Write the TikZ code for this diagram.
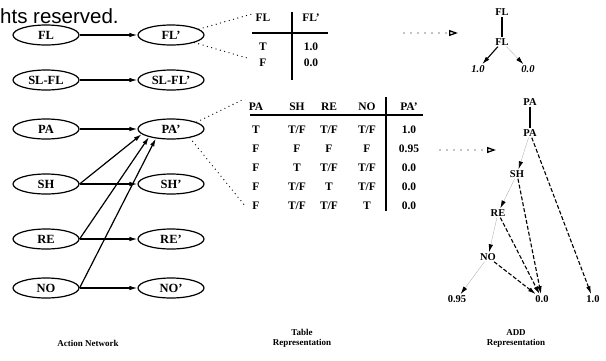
\documentclass[tikz,border=0pt]{standalone}
\usepackage{fontspec}
\setmainfont{Liberation Serif}
\newfontfamily\sansf{Liberation Sans}
\usetikzlibrary{arrows.meta,shapes.geometric}
\begin{document}
\begin{tikzpicture}[x=1pt,y=-1pt,
  st/.style={ellipse,draw,line width=1.2pt,minimum width=66pt,minimum height=20pt,inner sep=0pt,
             font=\bfseries\fontsize{12.5}{13}\selectfont},
  net/.style={-{Latex[length=8pt,width=4.5pt]},line width=1.2pt},
  tx/.style={inner sep=0pt,font=\bfseries\fontsize{11.5}{12}\selectfont},
  lf/.style={inner sep=1pt,font=\bfseries\fontsize{10.5}{11}\selectfont},
  captext/.style={inner sep=0pt,align=center,font=\bfseries\fontsize{9}{10}\selectfont},
  dots/.style={line width=1.3pt,dash pattern=on 0pt off 4.5pt,line cap=round},
  rule/.style={line width=1.2pt},
  tru/.style={-{Latex[length=8pt,width=4.5pt]},line width=1.1pt,dash pattern=on 4pt off 2pt},
  fls/.style={-{Latex[length=8pt,width=4.5pt,color=black,line width=0.8pt]},line width=0.3pt,draw=black!35},
  sol/.style={-{Latex[length=8pt,width=4.5pt]},line width=1.1pt},
  pt/.style={-{Triangle[open,length=9pt,width=6pt]},line width=1.3pt,dash pattern=on 0pt off 7pt,line cap=round}]
\useasboundingbox (0,0) rectangle (606,360);

% copyright fragment
\node[anchor=base west,inner sep=0pt,font=\sansf\fontsize{20.5}{22}\selectfont] (copy) at (0,23) {hts reserved.};

% ---------------- action network ----------------
\node[st] (FL)   at (46,35)  {FL};
\node[st] (FLp)  at (171,35) {FL'};
\node[st] (SL)   at (46,80)  {SL-FL};
\node[st] (SLp)  at (171,80) {SL-FL'};
\node[st] (PA)   at (46,129) {PA};
\node[st] (PAp)  at (171,129){PA'};
\node[st] (SH)   at (46,184) {SH};
\node[st] (SHp)  at (171,184){SH'};
\node[st] (RE)   at (46,239) {RE};
\node[st] (REp)  at (171,239){RE'};
\node[st] (NO)   at (46,288) {NO};
\node[st] (NOp)  at (171,288){NO'};

\draw[net] (FL) -- (FLp);
\draw[net] (SL) -- (SLp);
\draw[net] (PA) -- (PAp);
\draw[net] (SH.east) -- (SHp);
\draw[net] (RE.east) -- (REp);
\draw[net] (NO.east) -- (NOp);
\draw[net] (SH.east) -- (PAp.190);
\draw[net] (RE.east) -- (PAp.200);
\draw[net] (NO.east) -- (PAp.212);

\node[captext] (capA) at (88,343) {Action Network};

% ---------------- table 1 ----------------
\node[tx] (t1h1) at (263,18) {FL};
\node[tx] (t1h2) at (311,18) {FL'};
\node[tx] (t1a)  at (263,47) {T};
\node[tx] (t1b)  at (263,63) {F};
\node[tx] (t1c)  at (311,47) {1.0};
\node[tx] (t1d)  at (311,63) {0.0};
\draw[rule] (252,33) -- (328,33);
\draw[rule] (292,12) -- (292,80);
\coordinate (t1u) at (252,14);
\coordinate (t1l) at (247,58);
\draw[dots] (FLp.12) -- (t1u);
\draw[dots] (FLp.-18) -- (t1l);

% ---------------- table 2 ----------------
\node[tx] (h1) at (256,107) {PA};
\node[tx] (h2) at (297,107) {SH};
\node[tx] (h3) at (329,107) {RE};
\node[tx] (h4) at (367,107) {NO};
\node[tx] (h5) at (409,107) {PA'};
\draw[rule] (250,115) -- (423,115);
\draw[rule] (386,97) -- (386,211);

\node[tx] (r11) at (256,130) {T};  \node[tx] (r12) at (297,130) {T/F}; \node[tx] (r13) at (329,130) {T/F}; \node[tx] (r14) at (367,130) {T/F}; \node[tx] (r15) at (409,130) {1.0};
\node[tx] (r21) at (256,149) {F};  \node[tx] (r22) at (297,149) {F};   \node[tx] (r23) at (329,149) {F};   \node[tx] (r24) at (367,149) {F};   \node[tx] (r25) at (409,149) {0.95};
\node[tx] (r31) at (256,168) {F};  \node[tx] (r32) at (297,168) {T};   \node[tx] (r33) at (329,168) {T/F}; \node[tx] (r34) at (367,168) {T/F}; \node[tx] (r35) at (409,168) {0.0};
\node[tx] (r41) at (256,187) {F};  \node[tx] (r42) at (297,187) {T/F}; \node[tx] (r43) at (329,187) {T};   \node[tx] (r44) at (367,187) {T/F}; \node[tx] (r45) at (409,187) {0.0};
\node[tx] (r51) at (256,206) {F};  \node[tx] (r52) at (297,206) {T/F}; \node[tx] (r53) at (329,206) {T/F}; \node[tx] (r54) at (367,206) {T};   \node[tx] (r55) at (409,206) {0.0};

\coordinate (t2u) at (244,99);
\coordinate (t2l) at (246,207);
\draw[dots] (PAp.15) -- (t2u);
\draw[dots] (PAp.-25) -- (t2l);

\node[captext] (capT) at (302,338) {Table\\Representation};

% ---------------- pointers to ADDs ----------------
\coordinate (p1s) at (404,33);
\coordinate (p1e) at (458,33);
\draw[pt] (p1s) -- (p1e);
\coordinate (p2s) at (440,150);
\coordinate (p2e) at (496,150);
\draw[pt] (p2s) -- (p2e);

% ---------------- ADD 1 ----------------
\node[lf] (a1t) at (502,12) {FL};
\node[lf] (a1f) at (502,42) {FL};
\node[lf,font=\bfseries\itshape\fontsize{10.5}{11}\selectfont] (a1o) at (478,69) {1.0};
\node[lf,font=\bfseries\itshape\fontsize{10.5}{11}\selectfont] (a1z) at (528,69) {0.0};
\draw[line width=1.1pt] (a1t) -- (a1f);
\draw[sol] (a1f) -- (a1o);
\draw[fls] (a1f) -- (a1z);

% ---------------- ADD 2 ----------------
\node[lf] (a2t)  at (530,102) {PA};
\node[lf] (a2pa) at (530,133) {PA};
\node[lf] (a2sh) at (517,174) {SH};
\node[lf] (a2re) at (498,213) {RE};
\node[lf] (a2no) at (488,257) {NO};
\node[lf] (a2l1) at (457,299) {0.95};
\node[lf] (a2l2) at (542,299) {0.0};
\node[lf] (a2l3) at (593,299) {1.0};
\draw[line width=1.1pt] (a2t) -- (a2pa);
\draw[fls] (a2pa) -- (a2sh);
\draw[fls] (a2sh) -- (a2re);
\draw[fls] (a2re) -- (a2no);
\draw[fls] (a2no) -- (a2l1);
\draw[tru] (a2pa) -- (a2l3);
\draw[tru] (a2sh) -- (a2l2);
\draw[tru] (a2re) -- (a2l2);
\draw[tru] (a2no) -- (a2l2);

\node[captext] (capD) at (516,338) {ADD\\Representation};
\end{tikzpicture}
\end{document}
